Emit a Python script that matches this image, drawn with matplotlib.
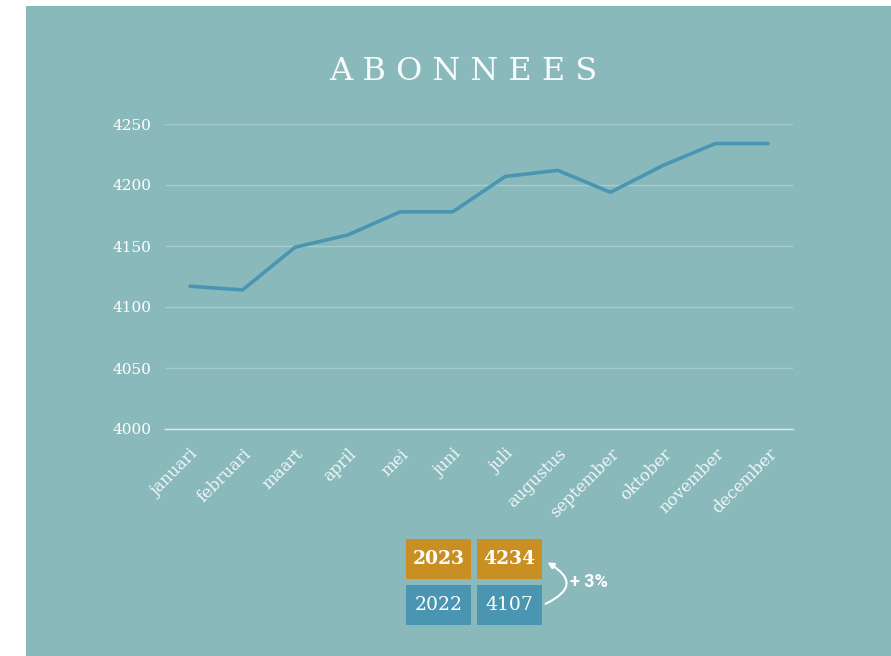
import matplotlib.pyplot as plt
from matplotlib.patches import Rectangle, FancyArrowPatch

# data
maanden = ['januari', 'februari', 'maart', 'april', 'mei', 'juni', 'juli',
           'augustus', 'september', 'oktober', 'november', 'december']
abonnees = [4117, 4114, 4149, 4159, 4178, 4178, 4207, 4212, 4194, 4216, 4234, 4234]
y_ticks = [4000, 4050, 4100, 4150, 4200, 4250]
jaren = ['2023', '2022']
totalen = [4234, 4107]

W, H = 891, 656
BG = '#8ab9bc'
LINE = '#4a96b2'
ORANGE = '#c98f22'
SERIF = ['DejaVu Serif']


def px(x, y):
    # pixel (top-left origin) to figure coords
    return x / W, 1 - y / H


fig = plt.figure(figsize=(W / 100, H / 100), dpi=100)
fig.patch.set_facecolor('white')

# panel background
fig.add_artist(Rectangle(px(26, 656), (W - 26) / W, 650 / H,
                         transform=fig.transFigure, facecolor=BG,
                         edgecolor='none', zorder=0))

x0, y0 = px(165, 429)
x1, y1 = px(793, 124)
ax = fig.add_axes([x0, y0, x1 - x0, y1 - y0])
ax.set_facecolor('none')

ax.plot(range(len(maanden)), abonnees, color=LINE, lw=2.6, solid_capstyle='round', zorder=3)

ax.set_xlim(-0.476, len(maanden) - 1 + 0.476)
ax.set_ylim(4000, 4250)
ax.set_yticks(y_ticks)
ax.set_yticklabels([str(v) for v in y_ticks], fontsize=11, color='white', family=SERIF)
ax.set_xticks(range(len(maanden)))
ax.set_xticklabels(maanden, rotation=45, ha='right', rotation_mode='anchor',
                   fontsize=12, color='#eef5f5', family=SERIF)
ax.tick_params(axis='both', length=0)
ax.tick_params(axis='y', pad=10)
ax.tick_params(axis='x', pad=12)

ax.grid(axis='y', color='#a6cbcd', lw=1)
ax.set_axisbelow(True)
for s in ['top', 'right', 'left']:
    ax.spines[s].set_visible(False)
ax.spines['bottom'].set_color('#dcebeb')
ax.spines['bottom'].set_linewidth(1)

# title
tx, ty = px(463, 72)
fig.text(tx, ty, ' '.join('ABONNEES'), ha='center', va='center',
         fontsize=23, color='#f7fbfb', family=SERIF)

# summary boxes
rows = [(539, ORANGE, 'bold'), (585, LINE, 'normal')]
for (top, kleur, gewicht), jaar, totaal in zip(rows, jaren, totalen):
    for left, tekst in [(406, jaar), (477, str(totaal))]:
        bx, by = px(left, top + 40)
        fig.add_artist(Rectangle((bx, by), 65 / W, 40 / H, transform=fig.transFigure,
                                 facecolor=kleur, edgecolor='none'))
        cx, cy = px(left + 32.5, top + 20)
        fig.text(cx, cy, tekst, ha='center', va='center', fontsize=13.5,
                 color='white', fontweight=gewicht, family=SERIF)

groei = round((totalen[0] - totalen[1]) / totalen[1] * 100)
pijl = FancyArrowPatch(px(543, 605), px(545, 561), transform=fig.transFigure,
                       connectionstyle='arc3,rad=1.0', arrowstyle='-|>',
                       mutation_scale=9, color='white', lw=1.5)
fig.add_artist(pijl)
gx, gy = px(570, 582)
fig.text(gx, gy, f'+ {groei}%', ha='left', va='center', fontsize=13,
         color='white', fontweight='bold', family=['Roboto', 'DejaVu Sans'])

fig.savefig('out.png', dpi=100)
